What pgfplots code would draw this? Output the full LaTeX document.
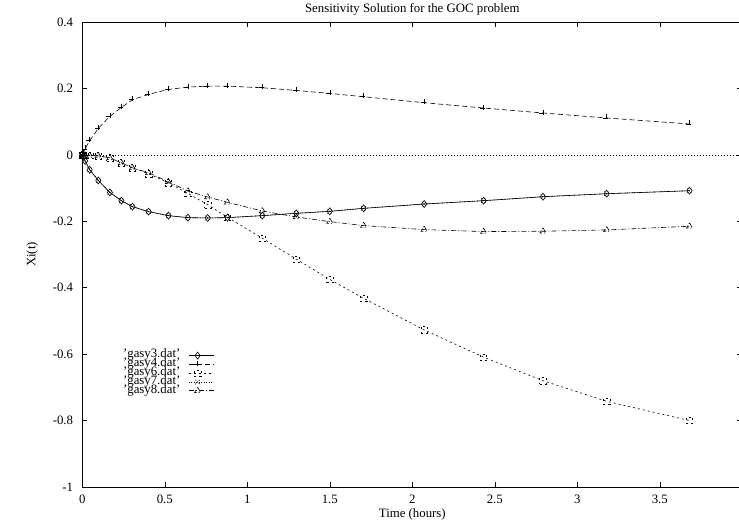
\documentclass[border=0pt]{standalone}
\usepackage{pgfplots}
\pgfplotsset{compat=1.18}
\usepackage{fontspec}
\setmainfont{Liberation Serif}

\pgfplotstableread{
x      g3      g4     g6      g7      g8
0      0       0      0       0       0
0.006  -0.006  0.007  0       -0.006  0
0.017  -0.018  0.018  -0.001  -0.018  -0.001
0.045  -0.045  0.043  -0.002  -0.045  -0.002
0.097  -0.077  0.080  -0.003  -0.077  -0.003
0.167  -0.113  0.116  -0.009  -0.113  -0.009
0.237  -0.138  0.143  -0.024  -0.138  -0.024
0.304  -0.156  0.166  -0.039  -0.156  -0.039
0.402  -0.171  0.182  -0.057  -0.171  -0.054
0.522  -0.183  0.197  -0.084  -0.183  -0.081
0.640  -0.189  0.204  -0.116  -0.189  -0.109
0.760  -0.190  0.207  -0.150  -0.190  -0.127
0.880  -0.189  0.207  -0.188  -0.189  -0.143
1.091  -0.183  0.202  -0.251  -0.183  -0.169
1.297  -0.176  0.194  -0.314  -0.176  -0.187
1.500  -0.170  0.185  -0.375  -0.170  -0.201
1.705  -0.161  0.175  -0.432  -0.161  -0.213
2.072  -0.148  0.157  -0.527  -0.148  -0.225
2.432  -0.138  0.141  -0.609  -0.138  -0.231
2.792  -0.126  0.126  -0.680  -0.126  -0.230
3.178  -0.117  0.111  -0.742  -0.117  -0.226
3.680  -0.108  0.093  -0.800  -0.108  -0.215
}\gasy

\begin{document}
\begin{tikzpicture}
\begin{axis}[
  name=ax,
  scale only axis,
  width=660pt, height=465pt,
  xmin=0, xmax=4, ymin=-1, ymax=0.4,
  xtick={0,0.5,1,1.5,2,2.5,3,3.5},
  ytick={-1,-0.8,-0.6,-0.4,-0.2,0,0.2,0.4},
  tick align=inside,
  major tick length=5pt,
  tick style={black, line width=0.6pt},
  axis line style={line width=0.8pt},
  /pgf/number format/assume math mode=true,
  font=\fontsize{12.8}{14}\selectfont,
  xticklabel style={anchor=base, inner sep=0pt, yshift=-16pt},
  yticklabel style={anchor=east, inner sep=0pt, xshift=-9pt},
  title={Sensitivity Solution for the GOC problem},
  every axis title/.style={at={(axis description cs:0.5,1)}, anchor=base, inner sep=0pt, yshift=9pt},
  xlabel={Time (hours)},
  every axis x label/.style={at={(axis description cs:0.5,0)}, anchor=base, inner sep=0pt, yshift=-30pt},
  ylabel={Xi(t)},
  every axis y label/.style={at={(axis description cs:0,0.5)}, rotate=90, anchor=center, inner sep=0pt, yshift=50pt},
  every axis plot/.append style={line width=0.6pt, black},
  every mark/.append style={solid},
  legend plot pos=right,
  legend cell align=right,
  legend image code/.code={\draw[mark repeat=2,mark phase=2,#1] plot coordinates {(0pt,0pt) (9pt,0pt) (25pt,0pt)};},
  legend style={draw=none, fill=none, at={(0.057,0.2968)}, anchor=north west,
    row sep=0pt, column sep=8pt,
    font=\fontsize{12.8}{14}\selectfont,
    nodes={inner sep=0pt, text height=6.8pt, text depth=2pt}},
]
\addplot[forget plot, dash pattern=on 1pt off 2pt, line width=0.5pt] coordinates {(0,0) (4,0)};
\addplot[solid, mark=diamond, mark size=3.5pt] table[x=x,y=g3]{\gasy};
\addlegendentry{'gasy3.dat'}
\addplot[dash pattern=on 5pt off 3pt, mark=+, mark size=3.5pt] table[x=x,y=g4]{\gasy};
\addlegendentry{'gasy4.dat'}
\addplot[dash pattern=on 2pt off 3pt, mark=square, mark size=3.2pt] table[x=x,y=g6]{\gasy};
\addlegendentry{'gasy6.dat'}
\addplot[dash pattern=on 1pt off 1.5pt, mark=x, mark size=3.2pt] table[x=x,y=g7]{\gasy};
\addlegendentry{'gasy7.dat'}
\addplot[dash pattern=on 5pt off 2pt on 1pt off 2pt, mark=triangle, mark size=3.5pt] table[x=x,y=g8]{\gasy};
\addlegendentry{'gasy8.dat'}
\end{axis}
\pgfresetboundingbox
\path[use as bounding box] ([shift={(-82.3pt,-38pt)}]ax.south west) rectangle ([shift={(-3.3pt,22pt)}]ax.north east);
\end{tikzpicture}
\end{document}
